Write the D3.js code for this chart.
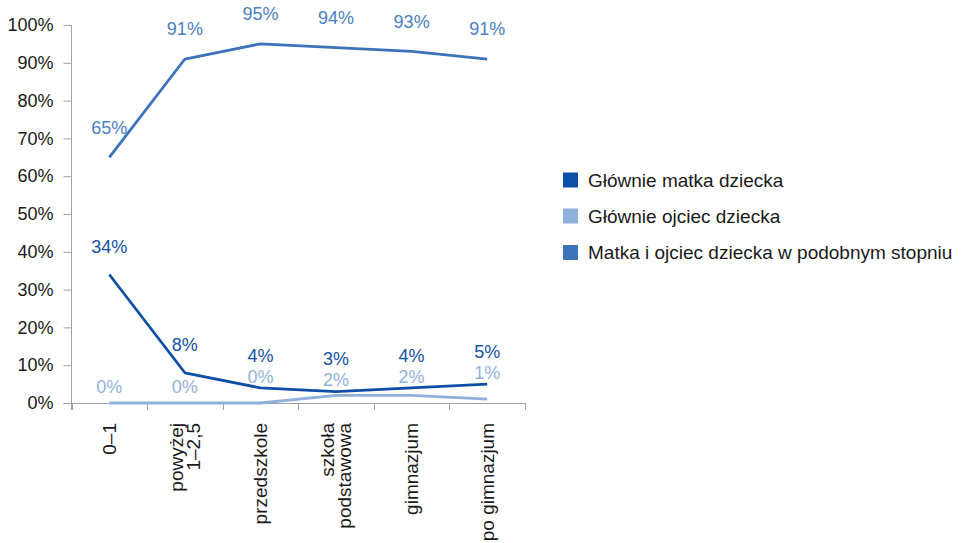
<!DOCTYPE html>
<html>
<head>
<meta charset="utf-8">
<script src="https://cdn.jsdelivr.net/npm/d3@7"></script>
<style>
  html, body { margin: 0; padding: 0; background: #fff; }
  svg { display: block; font-family: "Liberation Sans", Arial, sans-serif; }
</style>
</head>
<body>
<svg id="chart" width="962" height="543"></svg>
<script>
// Stage of the child's life (line breaks mark two-line labels)
const categories = ["0–1", "powyżej\n1–2,5", "przedszkole", "szkoła\npodstawowa", "gimnazjum", "po gimnazjum"];

// Share of answers, in percent
const seriesNames = [
  "Głównie matka dziecka",
  "Głównie ojciec dziecka",
  "Matka i ojciec dziecka w podobnym stopniu"
];
const glownieMatka = [34, 8, 4, 3, 4, 5];
const glownieOjciec = [0, 0, 0, 2, 2, 1];
const obojeRodzice = [65, 91, 95, 94, 93, 91];

const yTicks = [0, 10, 20, 30, 40, 50, 60, 70, 80, 90, 100];

const colors = ["#0d4fa6", "#8fb0da", "#3c74ba"];
const labelColors = ["#1452a6", "#92b2dc", "#4a7fc2"];

const svg = d3.select("#chart");
const plot = { left: 71.5, right: 525, top: 25, bottom: 403 };

const x = d3.scaleBand().domain(categories).range([plot.left, plot.right]).padding(0);
const cx = c => x(c) + x.bandwidth() / 2;
const y = d3.scaleLinear().domain([0, 100]).range([plot.bottom, plot.top]);

const axisColor = "#a3a3a3";
const textColor = "#1a1a1a";

// Y axis
const yAxis = svg.append("g")
  .attr("transform", `translate(${plot.left},0)`)
  .call(d3.axisLeft(y).tickValues(yTicks).tickSize(8).tickPadding(10).tickFormat(d => d + "%"));
yAxis.select(".domain").remove();
yAxis.selectAll(".tick line").attr("stroke", axisColor);
yAxis.selectAll(".tick text")
  .attr("fill", textColor)
  .style("font-size", "18px")
  .style("font-family", "'Liberation Sans', Arial, sans-serif");
svg.append("line")
  .attr("x1", plot.left).attr("x2", plot.left)
  .attr("y1", plot.top).attr("y2", plot.bottom + 7)
  .attr("stroke", axisColor);

// X axis line and category dividers
svg.append("line")
  .attr("x1", plot.left - 8).attr("x2", plot.right)
  .attr("y1", plot.bottom + 0.5).attr("y2", plot.bottom + 0.5)
  .attr("stroke", axisColor);
const dividers = categories.map(c => x(c)).concat([plot.right]);
svg.append("g").selectAll("line")
  .data(dividers)
  .join("line")
  .attr("x1", d => Math.round(d) + 0.5).attr("x2", d => Math.round(d) + 0.5)
  .attr("y1", plot.bottom).attr("y2", plot.bottom + 7)
  .attr("stroke", axisColor);

// Rotated category labels
const lineGap = 17;
categories.forEach(c => {
  const lines = c.split("\n");
  const g = svg.append("g")
    .attr("transform", `translate(${cx(c)},423) rotate(-90)`);
  lines.forEach((ln, i) => {
    const off = (i - (lines.length - 1) / 2) * lineGap;
    g.append("text")
      .attr("x", 0)
      .attr("y", off)
      .attr("dy", "0.35em")
      .attr("text-anchor", "end")
      .attr("fill", textColor)
      .style("font-size", "19px")
      .text(ln);
  });
});

// Lines
const series = [glownieMatka, glownieOjciec, obojeRodzice];
const line = d3.line()
  .x((d, i) => cx(categories[i]))
  .y(d => y(d));
[1, 0, 2].forEach(si => {
  svg.append("path")
    .datum(series[si])
    .attr("fill", "none")
    .attr("stroke", colors[si])
    .attr("stroke-width", 2.8)
    .attr("stroke-linejoin", "round")
    .attr("d", line);
});

// Value labels sit above their points. A father-series label is lifted
// over the mother line when that line would cross it, and the mother
// label is then kept clear above the father label.
const fmt = v => v + "%";
const ojciecLabelY = glownieOjciec.map((v, i) => {
  const base = y(v) - 16;
  const my = y(glownieMatka[i]);
  return my > base - 10 ? Math.min(base, my - 11) : base;
});
const matkaLabelY = glownieMatka.map((v, i) => Math.min(y(v) - 28, ojciecLabelY[i] - 21));
const obojeLabelY = obojeRodzice.map(v => y(v) - 30);
const labelYs = [matkaLabelY, ojciecLabelY, obojeLabelY];

series.forEach((vals, si) => {
  svg.append("g").selectAll("text")
    .data(vals)
    .join("text")
    .attr("x", (d, i) => cx(categories[i]))
    .attr("y", (d, i) => labelYs[si][i])
    .attr("dy", "0.35em")
    .attr("text-anchor", "middle")
    .attr("fill", labelColors[si])
    .style("font-size", "18px")
    .text(fmt);
});

// Legend
const legend = svg.append("g");
const legendY = [180, 216, 252.5];
seriesNames.forEach((name, i) => {
  legend.append("rect")
    .attr("x", 563).attr("y", legendY[i] - 7.5)
    .attr("width", 15).attr("height", 15)
    .attr("fill", colors[i]);
  legend.append("text")
    .attr("x", 588).attr("y", legendY[i])
    .attr("dy", "0.35em")
    .attr("fill", textColor)
    .style("font-size", "19px")
    .text(name);
});
</script>
</body>
</html>
